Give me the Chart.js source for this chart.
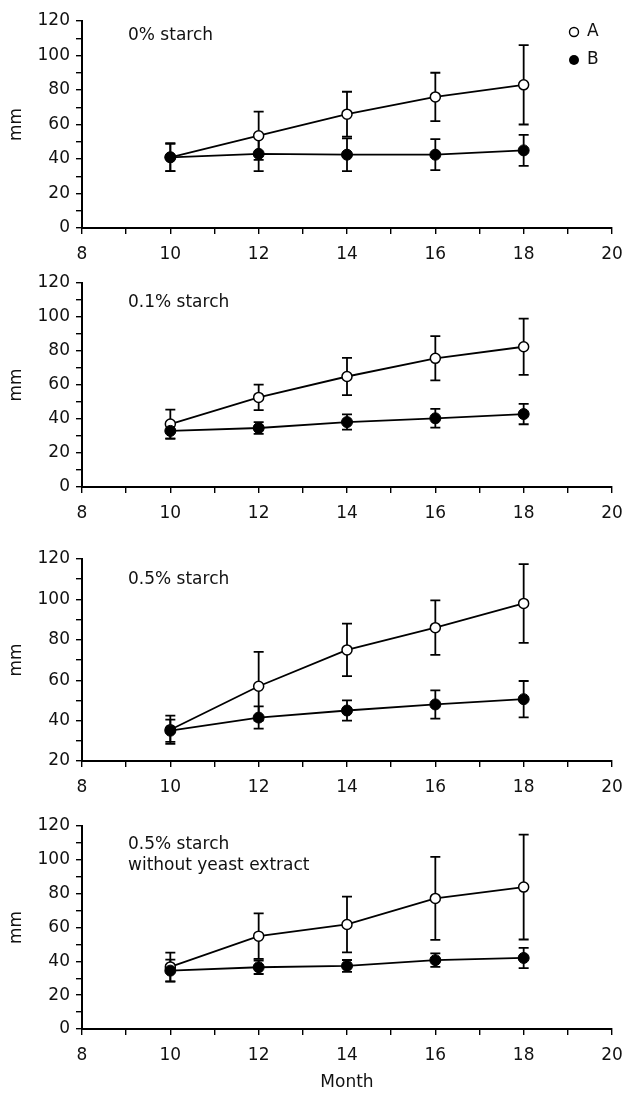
<!DOCTYPE html>
<html>
<head>
<meta charset="utf-8">
<script src="https://cdn.jsdelivr.net/npm/chart.js@4.4.0/dist/chart.umd.min.js"></script>
<style>
  html, body { margin: 0; padding: 0; background: #fff; }
  body { width: 626px; height: 1097px; position: relative; overflow: hidden; }
  canvas { position: absolute; left: 0; }
</style>
</head>
<body>
<canvas id="p1"></canvas>
<canvas id="p2"></canvas>
<canvas id="p3"></canvas>
<canvas id="p4"></canvas>
<script>
const months = [10, 12, 14, 16, 18];

// 0% starch
const a1 = [41, 53.5, 66, 76, 83];
const a1Err = [8, 14, 13, 14, 23];
const b1 = [41, 43, 42.5, 42.5, 45];
const b1Err = [8, 10, 9.5, 9, 9];

// 0.1% starch
const a2 = [37, 52.7, 65, 75.7, 82.5];
const a2Err = [8.5, 7.5, 11, 13, 16.5];
const b2 = [33, 34.7, 38.2, 40.4, 42.9];
const b2Err = [4.5, 3.5, 4.5, 5.5, 6];

// 0.5% starch
const a3 = [35.5, 57, 75, 86, 98];
const a3Err = [7, 17, 13, 13.5, 19.5];
const b3 = [35, 41.5, 45, 48, 50.6];
const b3Err = [5.5, 5.5, 5, 7, 9];

// 0.5% starch without yeast extract
const a4 = [36.7, 54.9, 61.8, 77.2, 83.9];
const a4Err = [8.5, 13.5, 16.5, 24.5, 31];
const b4 = [34.5, 36.5, 37.3, 40.7, 42];
const b4Err = [6.5, 4, 3.5, 4, 6];

const FONT = { family: "'DejaVu Sans', sans-serif", size: 17 };
const INK = "#111";

const errorBars = {
  id: "errorBars",
  beforeDatasetsDraw(chart) {
    const { ctx, scales: { x, y } } = chart;
    ctx.save();
    ctx.strokeStyle = "#000";
    ctx.lineWidth = 1.8;
    chart.data.datasets.forEach((ds) => {
      ds.data.forEach((p, i) => {
        const e = ds.errors[i];
        const px = x.getPixelForValue(p.x);
        const top = y.getPixelForValue(p.y + e);
        const bot = y.getPixelForValue(p.y - e);
        ctx.beginPath();
        ctx.moveTo(px, top); ctx.lineTo(px, bot);
        ctx.moveTo(px - 5, top); ctx.lineTo(px + 5, top);
        ctx.moveTo(px - 5, bot); ctx.lineTo(px + 5, bot);
        ctx.stroke();
      });
    });
    ctx.restore();
  },
};

const panelLabel = {
  id: "panelLabel",
  afterDraw(chart, args, o) {
    const { ctx, chartArea } = chart;
    ctx.save();
    ctx.font = "17px 'DejaVu Sans'";
    ctx.fillStyle = INK;
    ctx.textBaseline = "middle";
    o.lines.forEach((t, i) => ctx.fillText(t, chartArea.left + 46, chartArea.top + o.offsets[i]));
    if (o.legend) {
      const lx = chartArea.left + 492;
      ctx.strokeStyle = "#000";
      ctx.lineWidth = 1.4;
      ctx.fillStyle = "#fff";
      ctx.beginPath();
      ctx.arc(lx, chartArea.top + 11, 4.5, 0, Math.PI * 2);
      ctx.fill(); ctx.stroke();
      ctx.fillStyle = "#000";
      ctx.beginPath();
      ctx.arc(lx, chartArea.top + 39, 5, 0, Math.PI * 2);
      ctx.fill();
      ctx.fillStyle = INK;
      ctx.fillText("A", lx + 13, chartArea.top + 11);
      ctx.fillText("B", lx + 13, chartArea.top + 39);
    }
    ctx.restore();
  },
};

function axisStyle() {
  return {
    grid: { drawOnChartArea: false, drawTicks: true, tickLength: 6, color: "#000", lineWidth: 1.4 },
    border: { display: true, color: "#000", width: 2 },
  };
}

function makePanel(id, top, plotH, xH, A, errA, B, errB, yMin, lines, offsets, legend, last) {
  const canvas = document.getElementById(id);
  canvas.width = 626;
  canvas.height = 14 + plotH + xH;
  canvas.style.top = top + "px";

  new Chart(canvas, {
    type: "line",
    data: {
      datasets: [
        {
          label: "A",
          data: months.map((m, i) => ({ x: m, y: A[i] })),
          errors: errA,
          borderColor: "#000",
          borderWidth: 1.8,
          pointRadius: 5,
          pointBorderWidth: 1.5,
          pointBackgroundColor: "#fff",
          pointBorderColor: "#000",
          order: 1,
        },
        {
          label: "B",
          data: months.map((m, i) => ({ x: m, y: B[i] })),
          errors: errB,
          borderColor: "#000",
          borderWidth: 1.8,
          pointRadius: 5.5,
          pointBorderWidth: 1,
          pointBackgroundColor: "#000",
          pointBorderColor: "#000",
          order: 0,
        },
      ],
    },
    options: {
      responsive: false,
      animation: false,
      layout: { padding: { top: 14, right: 14, left: 0, bottom: 0 } },
      plugins: {
        legend: { display: false },
        tooltip: { enabled: false },
        panelLabel: { lines, offsets, legend },
      },
      scales: {
        x: {
          type: "linear",
          min: 8,
          max: 20,
          afterFit: (s) => {
            s.height = xH;
            s.paddingLeft = 0;
            s.paddingRight = 0;
          },
          ticks: {
            stepSize: 1, autoSkip: false, maxRotation: 0, padding: 10, color: INK, font: FONT,
            callback: (v) => (v % 2 === 0 ? String(v) : ""),
          },
          title: { display: last, text: "Month", color: INK, font: FONT, padding: { top: 0, bottom: 4 } },
          ...axisStyle(),
        },
        y: {
          min: yMin,
          max: 120,
          afterFit: (s) => {
            s.width = 82;
            s.paddingTop = 0;
            s.paddingBottom = 0;
          },
          ticks: {
            stepSize: 10, autoSkip: false, padding: 6, color: INK, font: FONT,
            callback: (v) => (v % 20 === 0 ? String(v) : ""),
          },
          title: { display: true, text: "mm", color: INK, font: FONT, padding: { top: 6, bottom: 0 } },
          ...axisStyle(),
        },
      },
    },
    plugins: [errorBars, panelLabel],
  });
}

makePanel("p1", 7, 207, 40, a1, a1Err, b1, b1Err, 0, ["0% starch"], [15], true, false);
makePanel("p2", 269, 204, 40, a2, a2Err, b2, b2Err, 0, ["0.1% starch"], [20], false, false);
makePanel("p3", 545, 202, 40, a3, a3Err, b3, b3Err, 20, ["0.5% starch"], [21], false, false);
makePanel("p4", 812, 203, 68, a4, a4Err, b4, b4Err, 0, ["0.5% starch", "without yeast extract"], [19, 40], false, true);
</script>
</body>
</html>
